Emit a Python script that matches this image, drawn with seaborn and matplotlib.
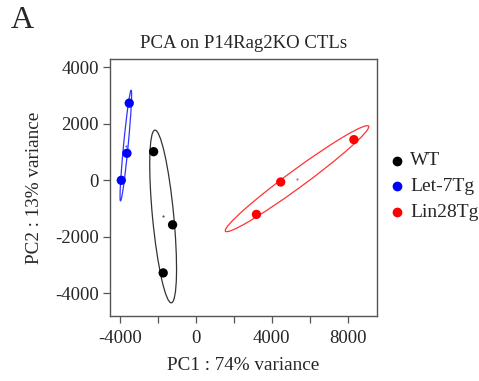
import numpy as np
import pandas as pd
import seaborn as sns
import matplotlib.pyplot as plt
from matplotlib.patches import Ellipse

# dados
grupos = ['WT', 'WT', 'WT', 'Let-7Tg', 'Let-7Tg', 'Let-7Tg', 'Lin28Tg', 'Lin28Tg', 'Lin28Tg']
pc1 = [-2227, -1228, -1722, -3511, -3632, -3930, 3190, 4469, 8325]
pc2 = [1015, -1576, -3280, 2733, 958, 0, -1207, -60, 1441]
ordem = ['WT', 'Let-7Tg', 'Lin28Tg']
cores = {'WT': 'black', 'Let-7Tg': 'blue', 'Lin28Tg': 'red'}
cores_elipse = {'WT': '#333333', 'Let-7Tg': '#3333ff', 'Lin28Tg': '#ff3333'}

df = pd.DataFrame({'grupo': grupos, 'PC1': pc1, 'PC2': pc2})

sns.set_theme(style='white')
plt.rcParams['font.family'] = ['Liberation Serif', 'DejaVu Serif']
plt.rcParams['axes.unicode_minus'] = False

fig = plt.figure(figsize=(4.79, 3.81), dpi=100)
ax = fig.add_axes([0.2296, 0.1706, 0.5574, 0.6744])

# elipses a partir da covariancia de cada grupo
for g in ordem:
    sub = df[df['grupo'] == g]
    cov = np.cov(sub['PC1'], sub['PC2'])
    vals, vecs = np.linalg.eigh(cov)
    ang = np.degrees(np.arctan2(vecs[1, 1], vecs[0, 1]))
    k = np.sqrt(2)
    w, h = 2 * k * np.sqrt(vals[1]), 2 * k * np.sqrt(vals[0])
    cx, cy = sub['PC1'].mean(), sub['PC2'].mean()
    ax.add_patch(Ellipse((cx, cy), w, h, angle=ang, fill=False,
                         edgecolor=cores_elipse[g], linewidth=0.9))
    ax.plot(cx, cy, '.', color=cores_elipse[g], markersize=1)

sns.scatterplot(data=df, x='PC1', y='PC2', hue='grupo', hue_order=ordem,
                palette=cores, s=45, edgecolor='none', ax=ax, legend=False)

ax.set_xlim(-4526, 9541)
ax.set_ylim(-4806, 4295)
ax.set_xticks([-4000, -2000, 0, 2000, 4000, 6000, 8000])
ax.set_xticklabels(['-4000', '', '0', '', '4000', '', '8000'])
ax.set_yticks([-4000, -2000, 0, 2000, 4000])
ax.tick_params(axis='both', direction='out', length=5, width=0.9, color='#555555',
               labelsize=13.5, pad=3, bottom=True, left=True)
ax.tick_params(axis='x', pad=5)
for s in ax.spines.values():
    s.set_color('#555555')
    s.set_linewidth(1.0)

ax.set_xlabel('PC1 : 74% variance', fontsize=13.8, labelpad=7)
ax.set_ylabel('PC2 : 13% variance', fontsize=13.8, labelpad=9)
ax.set_title('PCA on P14Rag2KO CTLs', fontsize=13.5, pad=8)

# legenda fora do grafico
for i, g in enumerate(ordem):
    y = 1 - (160.7 + 25.7 * i) / 381
    fig.lines.append(plt.Line2D([396.7 / 479], [y], marker='o', markersize=6,
                                color=cores[g], linestyle='none',
                                transform=fig.transFigure))
    fig.text(410 / 479, y, g, fontsize=14, va='center', ha='left')

fig.text(11 / 479, 1 - 20 / 381, 'A', fontsize=23, va='center', ha='left')

plt.savefig('out.png', dpi=100)
